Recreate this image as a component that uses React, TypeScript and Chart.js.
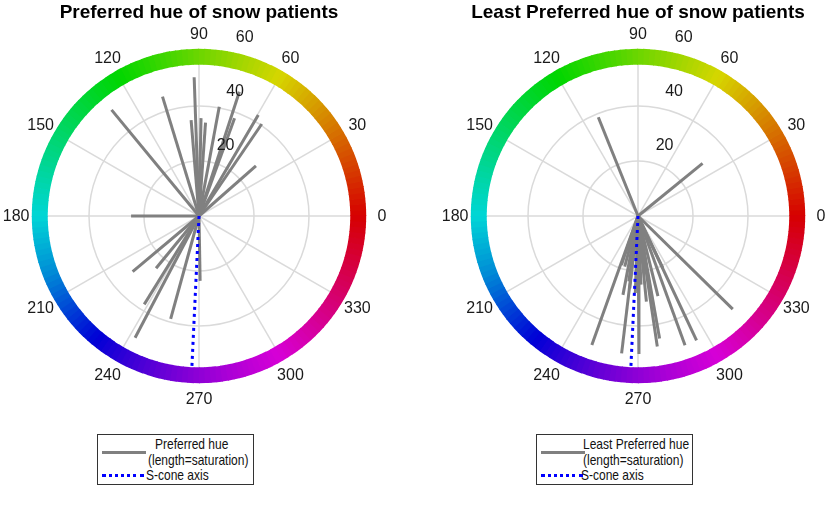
import React, { useEffect, useRef } from "react";
import { Chart, registerables, Plugin } from "chart.js";

Chart.register(...registerables);

// hue angle (deg) and saturation of each patient's choice
const prefAngles = [129.5, 107, 92, 94.7, 88.8, 86, 79.5, 72, 70, 59.6, 55.7, 41.4, 180, 220, 230.6, 238.2, 242.3, 254.6, 271];
const prefSat = [50, 45.4, 50.5, 35, 35.6, 34, 40.4, 47.5, 37.8, 42.6, 40.5, 27.6, 24.7, 31.5, 24.6, 37.8, 50, 38.8, 23.6];

const leastAngles = [111.9, 39.2, 315.5, 250.3, 263.2, 270.4, 278.4, 280, 290, 295.2, 259.2, 255.3, 263.5, 275.6, 279.2, 295.5, 276.9, 251.3, 262, 268, 272.5, 284];
const leastSat = [38.7, 30.3, 48.3, 49.8, 50.3, 50.2, 48, 45.2, 50, 50, 29.2, 19, 26.5, 31.3, 26.7, 21, 20.4, 18.8, 24, 28, 25, 30];

const sConeAngle = 267.3;
const sConeLength = 55;

const angleTicks = [0, 30, 60, 90, 120, 150, 180, 210, 240, 270, 300, 330];
const radialTicks = [20, 40, 60];

const RING_IN = 55;
const RING_OUT = 60.8;
const LABEL_R = 66.5;
const PX_PER_UNIT = 2.75;
const W = 398;
const H = 432;

const rad = (d: number) => (d * Math.PI) / 180;

function spoke(angle: number, len: number) {
  return [
    { x: 0, y: 0 },
    { x: len * Math.cos(rad(angle)), y: len * Math.sin(rad(angle)) },
  ];
}

const polarPlugin = (title: string): Plugin => ({
  id: "polarDecor",
  beforeDatasetsDraw(chart) {
    const { ctx } = chart;
    const xs = chart.scales.x;
    const ys = chart.scales.y;
    const cx = xs.getPixelForValue(0);
    const cy = ys.getPixelForValue(0);
    const k = xs.getPixelForValue(1) - cx;
    ctx.save();
    ctx.strokeStyle = "#dadada";
    ctx.lineWidth = 1.5;
    for (const r of radialTicks.slice(0, 2)) {
      ctx.beginPath();
      ctx.arc(cx, cy, r * k, 0, Math.PI * 2);
      ctx.stroke();
    }
    for (const a of angleTicks) {
      ctx.beginPath();
      ctx.moveTo(cx, cy);
      ctx.lineTo(cx + RING_IN * k * Math.cos(rad(a)), cy - RING_IN * k * Math.sin(rad(a)));
      ctx.stroke();
    }
    // hue ring
    const step = 2;
    for (let a = 0; a < 360; a += step) {
      ctx.beginPath();
      ctx.arc(cx, cy, RING_OUT * k, -rad(a + step + 0.3), -rad(a), false);
      ctx.arc(cx, cy, RING_IN * k, -rad(a), -rad(a + step + 0.3), true);
      ctx.closePath();
      const hue = a > 200 && a < 300 ? a + 12 * Math.sin(((a - 200) / 100) * Math.PI) : a;
      ctx.fillStyle = `hsl(${hue + 1}, 100%, 42%)`;
      ctx.fill();
    }
    ctx.restore();
  },
  afterDraw(chart) {
    const { ctx } = chart;
    const xs = chart.scales.x;
    const ys = chart.scales.y;
    const cx = xs.getPixelForValue(0);
    const cy = ys.getPixelForValue(0);
    const k = xs.getPixelForValue(1) - cx;
    ctx.save();
    ctx.fillStyle = "#1a1a1a";
    ctx.font = '16px "Liberation Sans", Arial, sans-serif';
    ctx.textAlign = "center";
    ctx.textBaseline = "middle";
    for (const a of angleTicks) {
      ctx.fillText(
        String(a),
        cx + LABEL_R * k * Math.cos(rad(a)),
        cy - LABEL_R * k * Math.sin(rad(a)) + 1
      );
    }
    for (const r of radialTicks) {
      ctx.fillText(
        String(r),
        cx + r * k * Math.cos(rad(80)) + 17,
        cy - r * k * Math.sin(rad(80)) - 16
      );
    }
    ctx.fillStyle = "#000";
    ctx.font = 'bold 19px "Liberation Sans", Arial, sans-serif';
    ctx.fillText(title, cx, 13);
    ctx.restore();
  },
});

function PolarHue(props: { title: string; angles: number[]; sats: number[]; left: number }) {
  const canvasRef = useRef<HTMLCanvasElement>(null);
  const chartRef = useRef<Chart | null>(null);

  useEffect(() => {
    const ctx = canvasRef.current?.getContext("2d");
    if (!ctx) return;

    const grey = props.angles.map((a, i) => ({
      data: spoke(a, props.sats[i]),
      showLine: true,
      borderColor: "#808080",
      borderWidth: 3,
      pointRadius: 0,
    }));

    // first dataset is painted on top
    const blue = {
      data: spoke(sConeAngle, sConeLength),
      showLine: true,
      borderColor: "#0000ff",
      borderWidth: 3,
      borderDash: [3, 4],
      pointRadius: 0,
    };

    const xHalf = W / 2 / PX_PER_UNIT;
    const yHalf = H / 2 / PX_PER_UNIT;

    chartRef.current = new Chart(ctx, {
      type: "scatter",
      data: { datasets: [blue, ...grey] },
      options: {
        animation: false,
        responsive: false,
        devicePixelRatio: 1,
        layout: { padding: 0 },
        scales: {
          x: { type: "linear", min: -xHalf, max: xHalf, display: false },
          y: { type: "linear", min: -yHalf, max: yHalf, display: false },
        },
        plugins: {
          legend: { display: false },
          tooltip: { enabled: false },
        },
      },
      plugins: [polarPlugin(props.title)],
    });

    return () => {
      if (chartRef.current) {
        chartRef.current.destroy();
      }
    };
  }, [props.angles, props.sats, props.title]);

  return (
    <canvas
      ref={canvasRef}
      width={W}
      height={H}
      style={{ position: "absolute", left: props.left, top: 0, width: W, height: H }}
    ></canvas>
  );
}

function Legend(props: {
  left: number;
  width: number;
  first: string;
  firstX: number;
  secondX: number;
  thirdX: number;
}) {
  const text: React.CSSProperties = {
    position: "absolute",
    fontSize: 15,
    lineHeight: "16px",
    whiteSpace: "nowrap",
    color: "#111",
    transform: "scaleX(0.8)",
    transformOrigin: "left center",
  };
  return (
    <div
      style={{
        position: "absolute",
        left: props.left,
        top: 434,
        width: props.width,
        height: 49,
        border: "1px solid #333",
        background: "#fff",
        fontFamily: '"Liberation Sans", Arial, sans-serif',
      }}
    >
      <div style={{ position: "absolute", left: 4, top: 16, width: 44, height: 0, borderTop: "3px solid #808080" }} />
      <span style={{ ...text, left: props.firstX, top: 1 }}>{props.first}</span>
      <span style={{ ...text, left: props.secondX, top: 17 }}>(length=saturation)</span>
      <div style={{ position: "absolute", left: 4, top: 39, width: 42, height: 0, borderTop: "3px dotted #0000ff" }} />
      <span style={{ ...text, left: props.thirdX, top: 32 }}>S-cone axis</span>
    </div>
  );
}

export default function App() {
  return (
    <div
      style={{
        position: "fixed",
        left: 0,
        top: 0,
        width: 829,
        height: 521,
        overflow: "hidden",
        background: "#fff",
      }}
    >
      <PolarHue title="Preferred hue of snow patients" angles={prefAngles} sats={prefSat} left={0} />
      <PolarHue title="Least Preferred hue of snow patients" angles={leastAngles} sats={leastSat} left={439} />
      <Legend left={97} width={155} first="Preferred hue" firstX={57} secondX={50} thirdX={48} />
      <Legend left={536} width={155} first="Least Preferred hue" firstX={46} secondX={46} thirdX={44} />
    </div>
  );
}
